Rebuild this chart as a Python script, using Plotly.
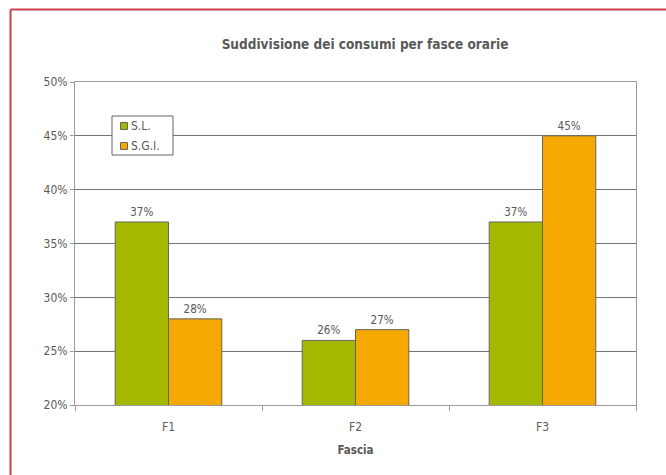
import plotly.graph_objects as go

fasce = ["F1", "F2", "F3"]
serie = ["S.L.", "S.G.I."]
sl_values = [0.37, 0.26, 0.37]
sgi_values = [0.28, 0.27, 0.45]
sl_labels = ["37%", "26%", "37%"]
sgi_labels = ["28%", "27%", "45%"]

GREEN = "#a4b800"
ORANGE = "#f5a800"
GRAY = "#595959"
EDGE = "#656565"
FONT = "DejaVu Sans Condensed"

# plot area in pixels: x 75..636, y 82..405
PL, PR, PT, PB = 75, 636, 82, 405


def px_x(x):
    return (x - PL) / (PR - PL)


def px_y(y):
    return (PB - y) / (PB - PT)


fig = go.Figure()

for name, vals, labels, color in [(serie[0], sl_values, sl_labels, GREEN),
                                  (serie[1], sgi_values, sgi_labels, ORANGE)]:
    fig.add_trace(go.Bar(
        x=fasce, y=vals, name=name,
        marker=dict(color=color, line=dict(color=EDGE, width=1)),
        text=labels, textposition="outside",
        textfont=dict(color=GRAY, size=11.5, family=FONT),
        cliponaxis=False, showlegend=False,
    ))

# legend drawn by hand (small square swatches like the original)
shapes = [
    dict(type="rect", xref="paper", yref="paper",
         x0=px_x(112), x1=px_x(173), y0=px_y(155), y1=px_y(116),
         fillcolor="white", line=dict(color=EDGE, width=1), layer="above"),
]
annotations = []
for i, (name, color) in enumerate([(serie[0], GREEN), (serie[1], ORANGE)]):
    cy = 126 + i * 20
    shapes.append(dict(type="rect", xref="paper", yref="paper",
                       x0=px_x(120.5), x1=px_x(127.5), y0=px_y(cy + 3.5), y1=px_y(cy - 3.5),
                       fillcolor=color, line=dict(color=EDGE, width=1), layer="above"))
    annotations.append(dict(xref="paper", yref="paper", x=px_x(129), y=px_y(cy),
                            xanchor="left", yanchor="middle", showarrow=False,
                            text=name, font=dict(size=12, color=GRAY, family=FONT)))

# red outer frame
shapes += [
    dict(type="line", xref="paper", yref="paper",
         x0=px_x(10.5), x1=px_x(10.5), y0=px_y(9.5), y1=-1,
         line=dict(color="#c9404f", width=2)),
    dict(type="line", xref="paper", yref="paper",
         x0=px_x(10.5), x1=2, y0=px_y(9.5), y1=px_y(9.5),
         line=dict(color="#c9404f", width=2)),
]

fig.update_layout(
    width=666, height=475,
    margin=dict(l=PL, r=666 - PR, t=PT, b=475 - PB),
    paper_bgcolor="white", plot_bgcolor="white",
    barmode="group", bargap=0.43, bargroupgap=0,
    font=dict(family=FONT, color=GRAY, size=11),
    title=dict(
        text="<b>Suddivisione dei consumi per fasce orarie</b>",
        x=365 / 666, xanchor="center", y=1 - 44 / 475, yanchor="middle",
        font=dict(size=13.5, color=GRAY, family=FONT),
    ),
    showlegend=False,
    xaxis=dict(
        title=dict(text="<b>Fascia</b>", font=dict(size=11.5, color=GRAY, family=FONT), standoff=12),
        showline=True, linecolor="#9a9a9a", linewidth=1, mirror=True,
        ticks="outside", tickson="boundaries", ticklen=5, tickcolor="#9a9a9a",
        ticklabelstandoff=11,
        tickfont=dict(size=12, color=GRAY, family=FONT),
    ),
    yaxis=dict(
        range=[0.2, 0.5], dtick=0.05, tickformat=".0%",
        showgrid=True, gridcolor="#747474", gridwidth=1,
        showline=True, linecolor="#9a9a9a", linewidth=1, mirror=True,
        ticks="outside", ticklen=4, tickcolor="#9a9a9a",
        tickfont=dict(size=12, color=GRAY, family=FONT),
        zeroline=False,
    ),
    shapes=shapes,
    annotations=annotations,
)

fig.write_html("out.html", config={"displayModeBar": False},
               post_script="document.body.style.margin='0';")
